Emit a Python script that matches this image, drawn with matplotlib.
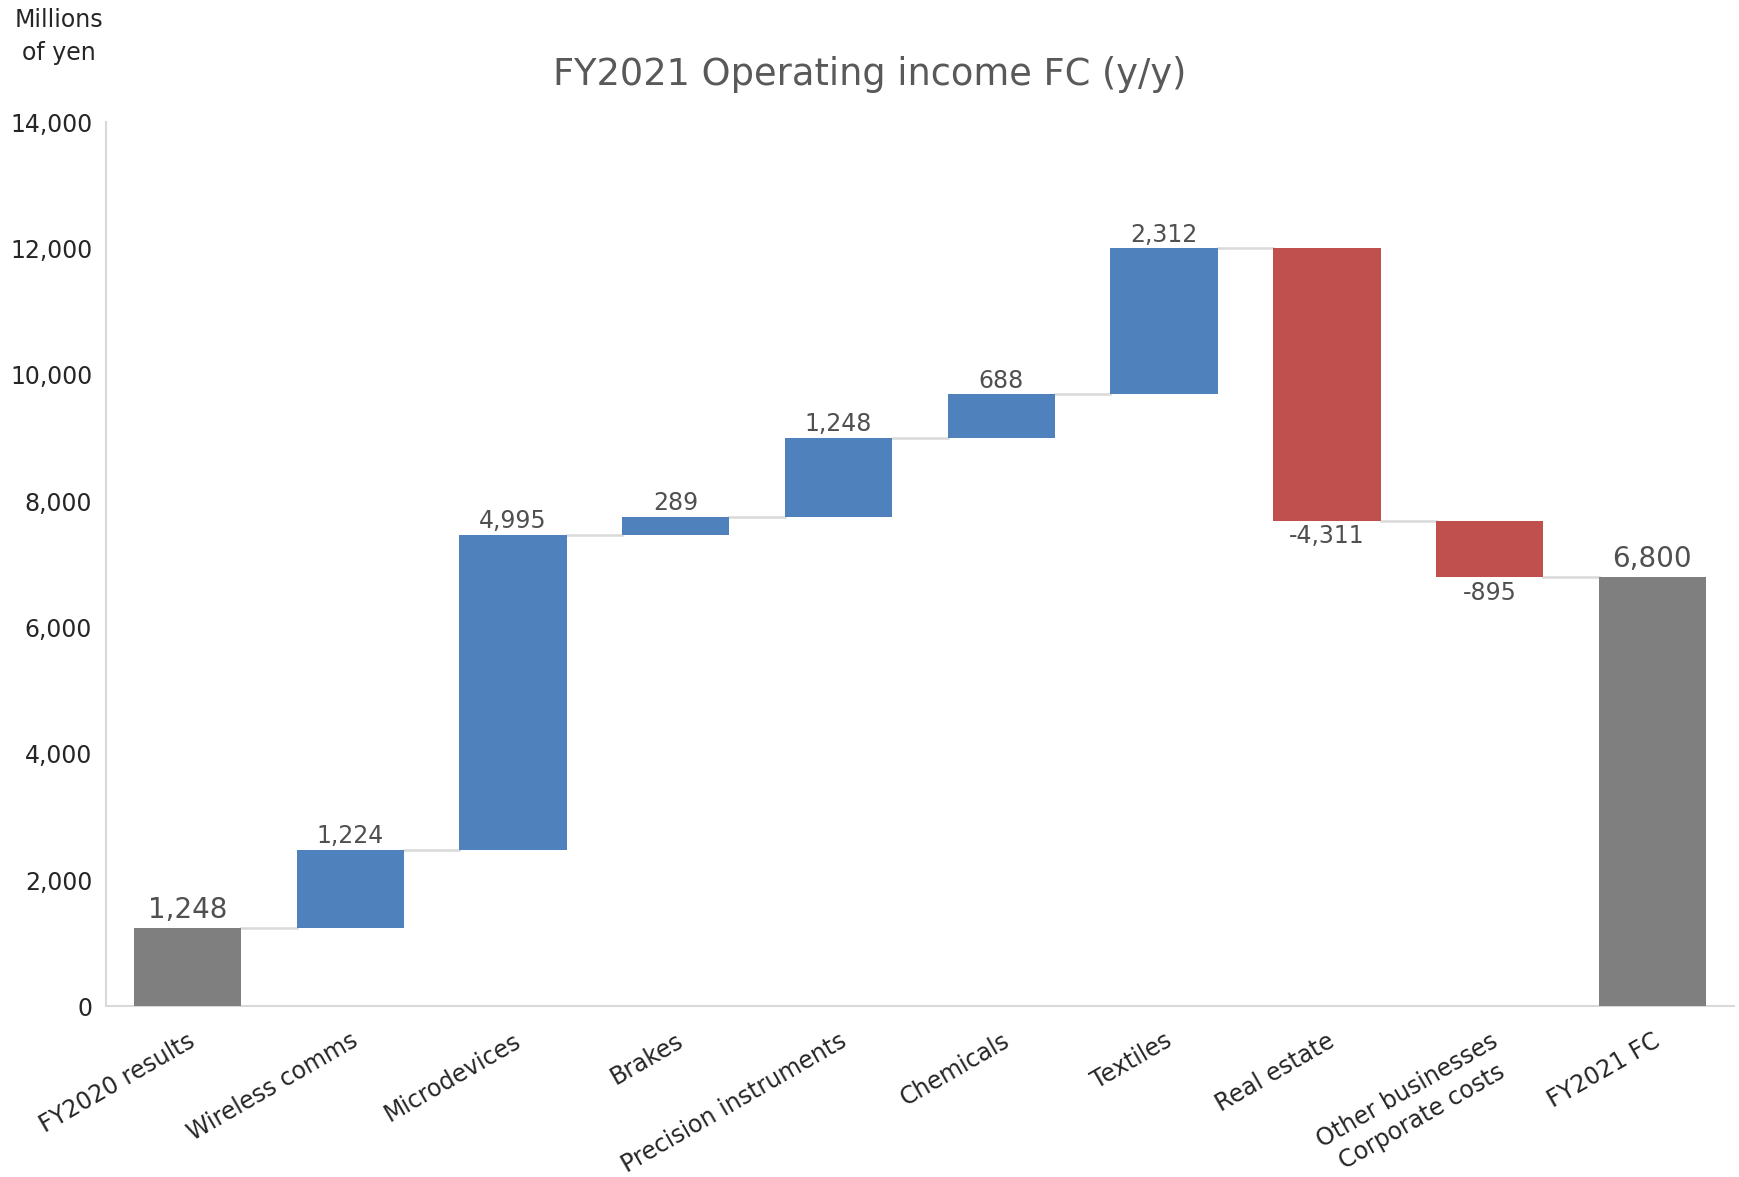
import numpy as np
import matplotlib.pyplot as plt

# Operating income bridge, millions of yen
categories = ["FY2020 results", "Wireless comms", "Microdevices", "Brakes",
              "Precision instruments", "Chemicals", "Textiles", "Real estate",
              "Other businesses\nCorporate costs", "FY2021 FC"]
changes = [1248, 1224, 4995, 289, 1248, 688, 2312, -4311, -895, 6800]
is_total = [True, False, False, False, False, False, False, False, False, True]
label_text = ["1,248", "1,224", "4,995", "289", "1,248", "688", "2,312",
              "-4,311", "-895", "6,800"]
y_ticks = [0, 2000, 4000, 6000, 8000, 10000, 12000, 14000]

BLUE = "#4F81BD"
RED = "#C0504D"
GREY = "#7F7F7F"
LINE = "#D9D9D9"
TEXT = "#505050"

# bottoms / heights for a waterfall
bottoms, heights, colors = [], [], []
running = 0
for val, tot in zip(changes, is_total):
    if tot:
        bottoms.append(0)
        heights.append(val)
        colors.append(GREY)
        running = val
    else:
        if val >= 0:
            bottoms.append(running)
            colors.append(BLUE)
        else:
            bottoms.append(running + val)
            colors.append(RED)
        heights.append(abs(val))
        running += val

fig = plt.figure(figsize=(17.39, 11.77), dpi=100)
ax = fig.add_axes([0.061, 0.145, 0.936, 0.751])

x = np.arange(len(categories))
width = 0.66
ax.bar(x, heights, bottom=bottoms, width=width, color=colors, zorder=3)

# connector lines between bars
levels = []
running = 0
for val, tot in zip(changes, is_total):
    running = val if tot else running + val
    levels.append(running)
for i in range(len(x) - 1):
    ax.plot([x[i] + width / 2, x[i + 1] - width / 2], [levels[i], levels[i]],
            color=LINE, lw=1.8, zorder=2)

# value labels
for i, (val, tot) in enumerate(zip(changes, is_total)):
    if tot:
        ax.text(x[i], heights[i] + 60, label_text[i], ha="center", va="bottom",
                fontsize=20, color=TEXT)
    elif val >= 0:
        ax.text(x[i], bottoms[i] + heights[i] + 30, label_text[i], ha="center",
                va="bottom", fontsize=17, color=TEXT)
    else:
        ax.text(x[i], bottoms[i] - 60, label_text[i], ha="center", va="top",
                fontsize=17, color=TEXT)

ax.set_xlim(-0.5, len(categories) - 0.5)
ax.set_ylim(0, 14000)
ax.set_yticks(y_ticks)
ax.set_yticklabels([f"{t:,}" for t in y_ticks], fontsize=17, color="#262626")
ax.set_xticks(x)
ax.set_xticklabels(categories, rotation=30, ha="right", rotation_mode="anchor",
                   fontsize=17, color="#262626", multialignment="center")
for lbl in ax.get_xticklabels():
    lbl.set_linespacing(1.35)
ax.tick_params(axis="both", length=0)
ax.tick_params(axis="x", pad=16)
ax.tick_params(axis="y", pad=10)

for side in ["top", "right"]:
    ax.spines[side].set_visible(False)
for side in ["left", "bottom"]:
    ax.spines[side].set_color(LINE)
    ax.spines[side].set_linewidth(1.5)

fig.text(0.5, 0.937, "FY2021 Operating income FC (y/y)", ha="center", va="center",
         fontsize=26.5, color="#595959")
fig.text(0.034, 0.969, "Millions\nof yen", ha="center", va="center",
         fontsize=17, color="#262626", linespacing=1.45)

fig.savefig("out.png", dpi=100)
